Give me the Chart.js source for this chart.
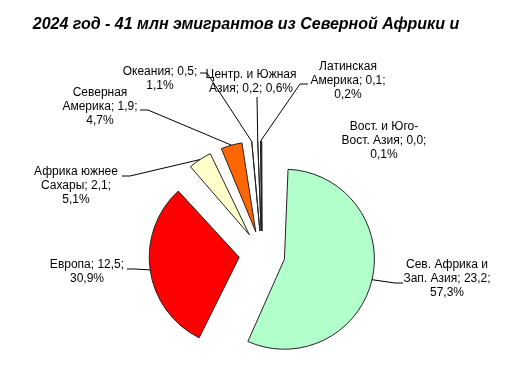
<!DOCTYPE html>
<html>
<head>
<meta charset="utf-8">
<script src="https://cdn.jsdelivr.net/npm/chart.js@4"></script>
<style>
  html, body { margin: 0; padding: 0; background: #fff; }
  #wrap { width: 506px; height: 374px; }
</style>
</head>
<body>
<div id="wrap"><canvas id="chart" width="506" height="374"></canvas></div>
<script>
const titleText = "2024 год - 41 млн эмигрантов из Северной Африки и";

const categories = [
    "Сев. Африка и Зап. Азия",
    "Европа",
    "Африка южнее Сахары",
    "Северная Америка",
    "Океания",
    "Центр. и Южная Азия",
    "Латинская Америка",
    "Вост. и Юго-Вост. Азия"
];
// млн человек
const migrants = [23.2, 12.5, 2.1, 1.9, 0.5, 0.2, 0.1, 0.0];
// доля, %
const shares = [57.3, 30.9, 5.1, 4.7, 1.1, 0.6, 0.2, 0.1];
const colors = ["#b3ffcc", "#ff0000", "#ffffcc", "#ff6600", "#660066", "#ff8080", "#000080", "#ccccff"];

const FONT = '"Liberation Sans", Arial, sans-serif';
const RADIUS = 90;
const GAP = 23; // на сколько пикселей выдвинут каждый сектор

// где стоят подписи (центр текста, первая строка) и куда приходит выноска
const labelLayout = [
    { x: 447, y: 265, w: 95, anchor: [403, 283], elbow: [395, 283] },
    { x: 87,  y: 265, w: 90, anchor: [127, 269], elbow: [135, 269] },
    { x: 76,  y: 172, w: 90, anchor: [122, 176], elbow: [130, 176] },
    { x: 100, y: 93,  w: 85, anchor: [140, 110], elbow: [148, 110] },
    { x: 160, y: 72,  w: 85, anchor: [200, 73],  elbow: [207, 73] },
    { x: 251, y: 75,  w: 100, anchor: [257, 97], elbow: null },
    { x: 348, y: 67,  w: 85, anchor: [308, 84],  elbow: [300, 84] },
    { x: 384, y: 127, w: 92, anchor: null, elbow: null }
];

const fmt = v => v.toFixed(1).replace(".", ",");

function wrapText(ctx, text, maxW) {
    // режем по пробелам и после дефиса
    const tokens = [];
    text.split(" ").forEach(word => {
        word.split(/(?<=-)/).forEach((t, i) => tokens.push({ t, sp: i === 0 }));
    });
    const lines = [];
    let cur = "";
    tokens.forEach(tok => {
        const next = cur === "" ? tok.t : cur + (tok.sp ? " " : "") + tok.t;
        if (cur !== "" && ctx.measureText(next).width > maxW) {
            lines.push(cur);
            cur = tok.t;
        } else {
            cur = next;
        }
    });
    if (cur) lines.push(cur);
    return lines;
}

// Chart.js при offset ещё и раздувает радиус сектора, убираем это,
// чтобы все секторы были одного радиуса
const sameRadiusPlugin = {
    id: "sameRadius",
    afterDatasetUpdate(chart, args) {
        args.meta.data.forEach(arc => {
            const circ = arc.endAngle - arc.startAngle;
            const fix = 1 - Math.sin(Math.min(Math.PI, circ));
            arc.outerRadius = RADIUS - GAP * fix;
        });
    }
};

const labelsPlugin = {
    id: "pieLabels",
    afterDraw(chart) {
        const ctx = chart.ctx;
        const meta = chart.getDatasetMeta(0);

        ctx.save();
        ctx.font = "italic bold 16px " + FONT;
        ctx.fillStyle = "#000";
        ctx.textAlign = "center";
        ctx.textBaseline = "middle";
        ctx.fillText(titleText, 246, 25);

        ctx.font = "12px " + FONT;
        meta.data.forEach((arc, i) => {
            const L = labelLayout[i];
            const mid = (arc.startAngle + arc.endAngle) / 2;
            const r = RADIUS + GAP;
            const ex = arc.x + Math.cos(mid) * r;
            const ey = arc.y + Math.sin(mid) * r;

            if (L.anchor) {
                ctx.strokeStyle = "#000";
                ctx.lineWidth = 1;
                ctx.beginPath();
                ctx.moveTo(ex, ey);
                if (L.elbow) ctx.lineTo(L.elbow[0], L.elbow[1]);
                ctx.lineTo(L.anchor[0], L.anchor[1]);
                ctx.stroke();
            }

            const text = categories[i] + "; " + fmt(migrants[i]) + "; " + fmt(shares[i]) + "%";
            const lines = wrapText(ctx, text, L.w);
            lines.forEach((ln, k) => ctx.fillText(ln, L.x, L.y + k * 14));
        });
        ctx.restore();
    }
};

new Chart(document.getElementById("chart"), {
    type: "pie",
    data: {
        labels: categories,
        datasets: [{
            data: shares,
            backgroundColor: colors,
            borderColor: "#222",
            borderWidth: 1,
            offset: GAP * 4, // Chart.js сдвигает на offset / 4
            hoverOffset: 0
        }]
    },
    options: {
        responsive: false,
        animation: false,
        radius: RADIUS,
        layout: { padding: { left: 18, right: 0, top: 134, bottom: 0 } },
        plugins: {
            legend: { display: false },
            title: { display: false },
            tooltip: { enabled: false }
        }
    },
    plugins: [sameRadiusPlugin, labelsPlugin]
});
</script>
</body>
</html>
